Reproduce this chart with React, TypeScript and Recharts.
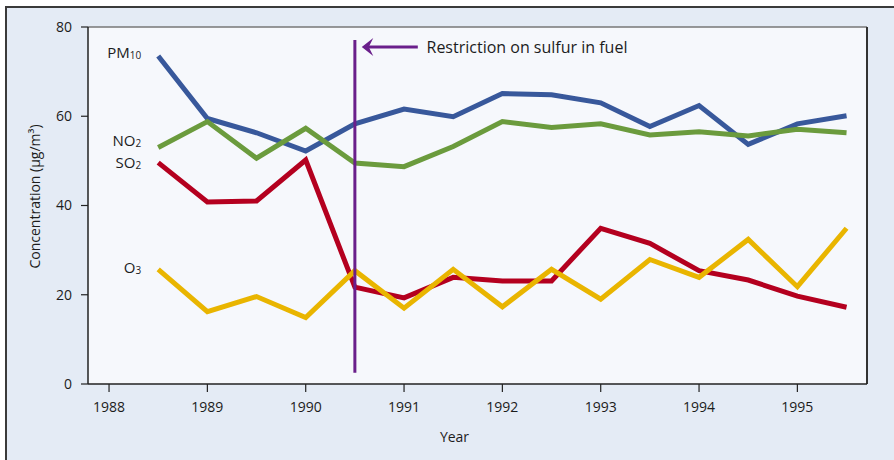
import React from 'react';
import { LineChart, Line, XAxis, YAxis, CartesianGrid, ReferenceLine, Label, LabelList } from 'recharts';

const years = [1988.5, 1989, 1989.5, 1990, 1990.5, 1991, 1991.5, 1992, 1992.5, 1993, 1993.5, 1994, 1994.5, 1995, 1995.5];
const pm10 = [73.5, 59.5, 56.3, 52.2, 58.3, 61.6, 59.9, 65.1, 64.8, 63.0, 57.7, 62.4, 53.7, 58.3, 60.1];
const no2 = [53.0, 58.8, 50.6, 57.3, 49.5, 48.7, 53.2, 58.8, 57.5, 58.3, 55.8, 56.5, 55.6, 57.1, 56.3];
const so2 = [49.6, 40.8, 41.0, 50.2, 21.7, 19.3, 23.9, 23.1, 23.1, 34.9, 31.5, 25.4, 23.3, 19.7, 17.2];
const o3 = [25.7, 16.2, 19.6, 14.9, 25.4, 17.0, 25.7, 17.3, 25.7, 19.0, 27.9, 23.9, 32.4, 21.8, 34.9];

const xTicks = [1988, 1989, 1990, 1991, 1992, 1993, 1994, 1995];
const yTicks = [0, 20, 40, 60, 80];
const xDomain: [number, number] = [1987.786, 1995.708];
const yDomain: [number, number] = [0, 80];

const restrictionYear = 1990.5;
const restrictionSpan = [2.5, 77.1];
const arrowTipYear = 1990.57;
const arrowTailYear = 1991.14;
const arrowLevel = 75.5;
const annotationText = 'Restriction on sulfur in fuel';

const FONT = '"Open Sans", "DejaVu Sans", sans-serif';
const TEXT = '#1c1c1c';
const C_PM = '#38589b';
const C_NO2 = '#6b9b3d';
const C_SO2 = '#b4001f';
const C_O3 = '#e9b500';
const C_PURPLE = '#6a1f8b';

const data = years.map((year, i) => ({ year, pm10: pm10[i], no2: no2[i], so2: so2[i], o3: o3[i] }));

const seriesLabel = (main: string, sub: string, dy: number) => (props: any) => {
  if (props.index !== 0) return null;
  const vb = props.viewBox || {};
  const x = (props.x ?? vb.x) as number;
  const y = (props.y ?? vb.y) as number;
  if (x == null || y == null) return null;
  return (
    <text x={x - 17} y={y + dy} textAnchor="end" fontSize={15} fill={TEXT} fontFamily={FONT}>
      {main}
      <tspan fontSize={10} dy={1}>{sub}</tspan>
    </text>
  );
};

const ArrowShape = (props: any) => {
  const { x1, y1, x2 } = props;
  if (x1 == null) return null;
  const tip = Math.min(x1, x2);
  const tail = Math.max(x1, x2);
  const y = y1;
  return (
    <g>
      <line x1={tip + 6} y1={y} x2={tail} y2={y} stroke={C_PURPLE} strokeWidth={3} />
      <polygon points={`${tip},${y} ${tip + 11.5},${y - 9} ${tip + 7},${y} ${tip + 11.5},${y + 9}`} fill={C_PURPLE} />
      <text x={tail + 8.7} y={y + 6} fontSize={16} fill={TEXT} fontFamily={FONT}>{annotationText}</text>
    </g>
  );
};

export default function App() {
  return (
    <div style={{ position: 'absolute', left: 0, top: 0, width: 894, height: 460, background: '#ffffff', overflow: 'hidden' }}>
      <div
        style={{
          position: 'absolute',
          left: 5,
          top: 6,
          width: 900,
          height: 470,
          background: '#e4ebf5',
          borderTop: '2px solid #3a3a3a',
          borderLeft: '2px solid #3a3a3a',
          boxSizing: 'border-box',
        }}
      />
      <div style={{ position: 'absolute', left: 0, top: 0 }}>
        <LineChart width={894} height={460} data={data} margin={{ top: 27, right: 27, left: 0, bottom: 16 }}>
          <CartesianGrid horizontal={false} vertical={false} fill="#f6f8fc" />
          <XAxis
            dataKey="year"
            type="number"
            domain={xDomain}
            ticks={xTicks}
            allowDataOverflow
            height={60}
            tickSize={8}
            tickMargin={10}
            axisLine={{ stroke: '#222', strokeWidth: 1.5 }}
            tickLine={{ stroke: '#222', strokeWidth: 1.2 }}
            tick={{ fill: TEXT, fontSize: 14, fontFamily: FONT }}
          >
            <Label
              content={(p: any) => {
                const vb = p.viewBox;
                if (!vb) return null;
                return (
                  <text x={vb.x + vb.width / 2 - 23} y={vb.y + 57.7} textAnchor="middle" fontSize={14} fill={TEXT} fontFamily={FONT}>
                    Year
                  </text>
                );
              }}
            />
          </XAxis>
          <YAxis
            type="number"
            domain={yDomain}
            ticks={yTicks}
            width={88}
            tickSize={7}
            tickMargin={9}
            axisLine={{ stroke: '#222', strokeWidth: 1.5 }}
            tickLine={{ stroke: '#222', strokeWidth: 1.2 }}
            tick={{ fill: TEXT, fontSize: 14, fontFamily: FONT }}
          >
            <Label
              content={(p: any) => {
                const vb = p.viewBox;
                if (!vb) return null;
                const cx = vb.x + 40;
                const cy = vb.y + vb.height / 2 - 9;
                return (
                  <text x={cx} y={cy} transform={`rotate(-90 ${cx} ${cy})`} textAnchor="middle" fontSize={14} fill={TEXT} fontFamily={FONT}>
                    Concentration (μg/m³)
                  </text>
                );
              }}
            />
          </YAxis>
          <ReferenceLine y={yDomain[1]} stroke="#777" strokeWidth={1.5} />
          <ReferenceLine x={xDomain[1]} stroke="#333" strokeWidth={2} />
          <Line dataKey="pm10" stroke={C_PM} strokeWidth={5} dot={false} activeDot={false} isAnimationActive={false} strokeLinejoin="miter">
            <LabelList content={seriesLabel('PM', '10', 2.3)} />
          </Line>
          <Line dataKey="no2" stroke={C_NO2} strokeWidth={5} dot={false} activeDot={false} isAnimationActive={false} strokeLinejoin="miter">
            <LabelList content={seriesLabel('NO', '2', -1.5)} />
          </Line>
          <Line dataKey="so2" stroke={C_SO2} strokeWidth={5} dot={false} activeDot={false} isAnimationActive={false} strokeLinejoin="miter">
            <LabelList content={seriesLabel('SO', '2', 5)} />
          </Line>
          <Line dataKey="o3" stroke={C_O3} strokeWidth={5} dot={false} activeDot={false} isAnimationActive={false} strokeLinejoin="miter">
            <LabelList content={seriesLabel('O', '3', 4)} />
          </Line>
          <ReferenceLine
            segment={[{ x: restrictionYear, y: restrictionSpan[0] }, { x: restrictionYear, y: restrictionSpan[1] }]}
            stroke={C_PURPLE}
            strokeWidth={3}
          />
          <ReferenceLine
            segment={[{ x: arrowTipYear, y: arrowLevel }, { x: arrowTailYear, y: arrowLevel }]}
            shape={ArrowShape}
          />
        </LineChart>
      </div>
    </div>
  );
}
